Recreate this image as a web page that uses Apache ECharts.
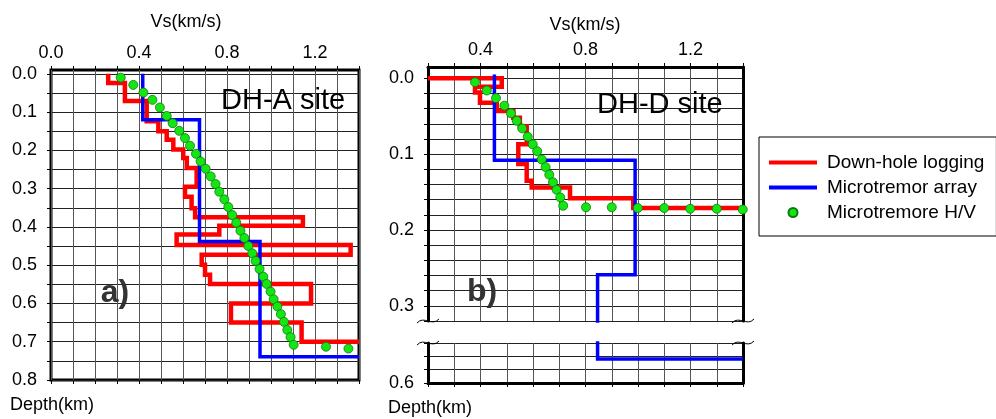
<!DOCTYPE html>
<html>
<head>
<meta charset="utf-8">
<script src="https://cdn.jsdelivr.net/npm/echarts@6/dist/echarts.min.js"></script>
<style>
  html, body { margin: 0; padding: 0; background: #fff; }
  #chart { width: 996px; height: 419px; }
</style>
</head>
<body>
<div id="chart"></div>
<script>
// values are [Vs (km/s), depth (km)]
// DH-A site, panel a)
const downholeA = [
  [0.26, 0], [0.26, 0.024], [0.336, 0.024], [0.336, 0.071], [0.435, 0.071], [0.435, 0.124],
  [0.488, 0.124], [0.488, 0.15], [0.526, 0.15], [0.526, 0.172], [0.556, 0.172], [0.556, 0.198],
  [0.601, 0.198], [0.601, 0.22], [0.617, 0.22], [0.617, 0.246], [0.662, 0.246], [0.662, 0.295],
  [0.609, 0.295], [0.609, 0.321], [0.639, 0.321], [0.639, 0.351], [0.655, 0.351], [0.655, 0.375],
  [1.145, 0.375], [1.145, 0.397], [0.765, 0.397], [0.765, 0.42], [0.571, 0.42], [0.571, 0.447],
  [1.362, 0.447], [1.362, 0.473], [0.685, 0.473], [0.685, 0.499], [0.70, 0.499], [0.70, 0.525],
  [0.723, 0.525], [0.723, 0.549], [1.182, 0.549], [1.182, 0.60], [0.818, 0.60], [0.818, 0.65],
  [1.139, 0.65], [1.139, 0.70], [1.40, 0.70]
];
const arrayA = [
  [0.417, 0], [0.417, 0.12], [0.675, 0.12], [0.675, 0.438], [0.95, 0.438], [0.95, 0.739], [1.4, 0.739]
];
const hvA = [
  [0.317, 0.01], [0.374, 0.029], [0.42, 0.049], [0.461, 0.068], [0.495, 0.088], [0.526, 0.11],
  [0.553, 0.129], [0.583, 0.149], [0.609, 0.168], [0.632, 0.188], [0.659, 0.209], [0.68, 0.229],
  [0.703, 0.248], [0.726, 0.268], [0.748, 0.288], [0.765, 0.308], [0.788, 0.328], [0.806, 0.348],
  [0.824, 0.369], [0.842, 0.389], [0.861, 0.41], [0.879, 0.429], [0.897, 0.45], [0.915, 0.469],
  [0.93, 0.489], [0.948, 0.51], [0.965, 0.53], [0.98, 0.549], [0.998, 0.569], [1.012, 0.589],
  [1.029, 0.608], [1.045, 0.628], [1.059, 0.648], [1.074, 0.669], [1.089, 0.688], [1.103, 0.708],
  [1.25, 0.713], [1.352, 0.718]
];

// DH-D site, panel b)
const downholeD = [
  [0.2, 0], [0.481, 0], [0.481, 0.011], [0.379, 0.011], [0.379, 0.0185], [0.398, 0.0185],
  [0.398, 0.032], [0.462, 0.032], [0.462, 0.043], [0.525, 0.043], [0.525, 0.052], [0.55, 0.052],
  [0.55, 0.063], [0.576, 0.063], [0.576, 0.087], [0.544, 0.087], [0.544, 0.113], [0.576, 0.113],
  [0.576, 0.135], [0.595, 0.135], [0.595, 0.144], [0.741, 0.144], [0.741, 0.158], [0.982, 0.158],
  [0.982, 0.171], [1.4, 0.171]
];
const arrayD = [
  [0.453, -0.005], [0.453, 0.108], [0.989, 0.108], [0.989, 0.259], [0.846, 0.259], [0.846, 0.57], [1.4, 0.57]
];
const hvD = [
  [0.379, 0.005], [0.424, 0.016], [0.459, 0.026], [0.491, 0.036], [0.516, 0.046], [0.538, 0.056],
  [0.559, 0.066], [0.58, 0.077], [0.599, 0.087], [0.616, 0.096], [0.633, 0.107], [0.648, 0.117],
  [0.662, 0.127], [0.676, 0.137], [0.69, 0.147], [0.704, 0.157], [0.715, 0.168], [0.802, 0.17],
  [0.9, 0.17], [0.999, 0.171], [1.1, 0.171], [1.199, 0.172], [1.3, 0.172], [1.399, 0.173]
];

// tick labels and grid line values
const vsLabels = [0, 0.4, 0.8, 1.2];
const depthLabelsA = [0, 0.1, 0.2, 0.3, 0.4, 0.5, 0.6, 0.7, 0.8];
const depthLinesA = [0, 0.05, 0.1, 0.15, 0.2, 0.25, 0.3, 0.35, 0.4, 0.45, 0.5, 0.55, 0.6, 0.65, 0.7, 0.75, 0.8];
const depthLabelsD = [0, 0.1, 0.2, 0.3];
const depthLinesD = [0, 0.02, 0.04, 0.06, 0.08, 0.1, 0.12, 0.14, 0.16, 0.18, 0.2, 0.22, 0.24, 0.26, 0.28, 0.3, 0.32];
const depthLabelsDLow = [0.6];
const depthLinesDLow = [0.55, 0.5667, 0.5833, 0.6];

const names = ['Down-hole logging', 'Microtremor array', 'Microtremore H/V'];

const FONT = '"Liberation Sans", Arial, sans-serif';
const fmt = (v) => v.toFixed(1);
const frame = { show: true, onZero: false, lineStyle: { color: '#000', width: 3 } };
const noFrame = { show: false, onZero: false };
const ticks = { show: true, length: 4, lineStyle: { color: '#000', width: 1 } };
const vLines = { show: true, lineStyle: { color: '#555', width: 1 } };
const hLines = { show: true, lineStyle: { color: '#222', width: 1 } };
const labelStyle = { fontSize: 18, color: '#000', fontFamily: FONT };
// flat bar used as legend icon for the two profiles
const barIcon = 'path://M0 0H12V1H0Z';

const chart = echarts.init(document.getElementById('chart'), null, { renderer: 'canvas' });

function vsAxis(gridIndex, min, position, withLabels, line, split) {
  return {
    gridIndex, type: 'value', position, min, max: 1.4, interval: 0.1,
    axisLine: line, axisTick: ticks,
    axisLabel: withLabels
      ? Object.assign({ customValues: vsLabels, formatter: fmt, margin: 8 }, labelStyle)
      : { show: false },
    splitLine: split ? vLines : { show: false }
  };
}

function depthAxis(gridIndex, min, max, lines, labels, line) {
  return {
    gridIndex, type: 'value', position: 'left', inverse: true, min, max,
    axisLine: line,
    axisTick: Object.assign({ customValues: lines }, ticks),
    axisLabel: Object.assign({ customValues: labels, formatter: fmt, margin: 14 }, labelStyle),
    splitLine: hLines
  };
}

function sideAxis(gridIndex, min, max) {
  return {
    gridIndex, type: 'value', position: 'right', inverse: true, min, max,
    axisLine: frame, axisTick: { show: false }, axisLabel: { show: false }, splitLine: { show: false }
  };
}

function stepLine(name, data, color, width, xi, yi) {
  return {
    name, type: 'line', data, xAxisIndex: xi, yAxisIndex: yi,
    symbol: 'none', showSymbol: false, animation: false, z: color === '#0000ff' ? 3 : 2,
    lineStyle: { color, width, join: 'miter', cap: 'butt' },
    itemStyle: { color }
  };
}

function dots(name, data, xi, yi) {
  return {
    name, type: 'scatter', data, xAxisIndex: xi, yAxisIndex: yi,
    symbol: 'circle', symbolSize: 9, animation: false, z: 4,
    itemStyle: { color: '#14e614', borderColor: '#0b7a0b', borderWidth: 0.8, opacity: 1 }
  };
}

function text(str, x, y, font, align, fill) {
  return {
    type: 'text', x, y, z: 10,
    style: { text: str, font, fill: fill || '#000', align, verticalAlign: 'middle' }
  };
}

// small tilde marks at the depth break of panel b
function breakMark(x, y) {
  return {
    type: 'bezierCurve', z: 10,
    shape: { x1: x - 11, y1: y + 2, cpx1: x - 4, cpy1: y - 6, cpx2: x + 4, cpy2: y + 6, x2: x + 11, y2: y - 2 },
    style: { stroke: '#000', lineWidth: 1, fill: null }
  };
}

const option = {
  backgroundColor: '#fff',
  animation: false,
  grid: [
    { left: 51, top: 70, width: 308, height: 310, show: true, borderColor: '#000', borderWidth: 3,
      backgroundColor: 'transparent', containLabel: false, outerBoundsMode: 'none' },
    { left: 428, top: 67, width: 315, height: 254, show: false, containLabel: false, outerBoundsMode: 'none' },
    { left: 428, top: 343, width: 315, height: 40, show: false, containLabel: false, outerBoundsMode: 'none' }
  ],
  xAxis: [
    vsAxis(0, 0, 'top', true, noFrame, true),
    vsAxis(0, 0, 'bottom', false, noFrame, false),
    vsAxis(1, 0.2, 'top', true, frame, true),
    vsAxis(2, 0.2, 'bottom', false, frame, true)
  ],
  yAxis: [
    depthAxis(0, -0.01, 0.8, depthLinesA, depthLabelsA, noFrame),
    depthAxis(1, -0.015, 0.32, depthLinesD, depthLabelsD, frame),
    depthAxis(2, 0.55, 0.6, depthLinesDLow, depthLabelsDLow, frame),
    sideAxis(1, -0.015, 0.32),
    sideAxis(2, 0.55, 0.6)
  ],
  legend: {
    data: [
      { name: names[0], icon: barIcon },
      { name: names[1], icon: barIcon },
      { name: names[2] }
    ],
    orient: 'vertical', left: 759, top: 137,
    itemWidth: 48, itemHeight: 9, itemGap: 6,
    padding: [16, 12, 14, 10],
    borderColor: '#000', borderWidth: 1, backgroundColor: '#fff',
    textStyle: { fontSize: 19, color: '#000', fontFamily: FONT, padding: [0, 0, 0, 5] }
  },
  series: [
    stepLine(names[0], downholeA, '#ff0000', 4.5, 0, 0),
    stepLine(names[1], arrayA, '#0000ff', 3.5, 0, 0),
    dots(names[2], hvA, 0, 0),
    stepLine(names[0], downholeD, '#ff0000', 4.5, 2, 1),
    stepLine(names[1], arrayD, '#0000ff', 3.5, 2, 1),
    dots(names[2], hvD, 2, 1),
    stepLine(names[1], arrayD, '#0000ff', 3.5, 3, 2)
  ],
  graphic: [
    text('Vs(km/s)', 186, 22, '18px ' + FONT, 'center'),
    text('Vs(km/s)', 585, 25, '18px ' + FONT, 'center'),
    text('Depth(km)', 10, 405, '18px ' + FONT, 'left'),
    text('Depth(km)', 388, 408, '18px ' + FONT, 'left'),
    text('DH-A site', 221, 101, '29px ' + FONT, 'left'),
    text('DH-D site', 597, 105, '29px ' + FONT, 'left'),
    text('a)', 115, 293, 'bold 32px ' + FONT, 'center', '#333'),
    text('b)', 482, 292, 'bold 32px ' + FONT, 'center', '#333'),
    breakMark(428, 321), breakMark(743, 321),
    breakMark(428, 343), breakMark(743, 343)
  ]
};

chart.setOption(option);
</script>
</body>
</html>
